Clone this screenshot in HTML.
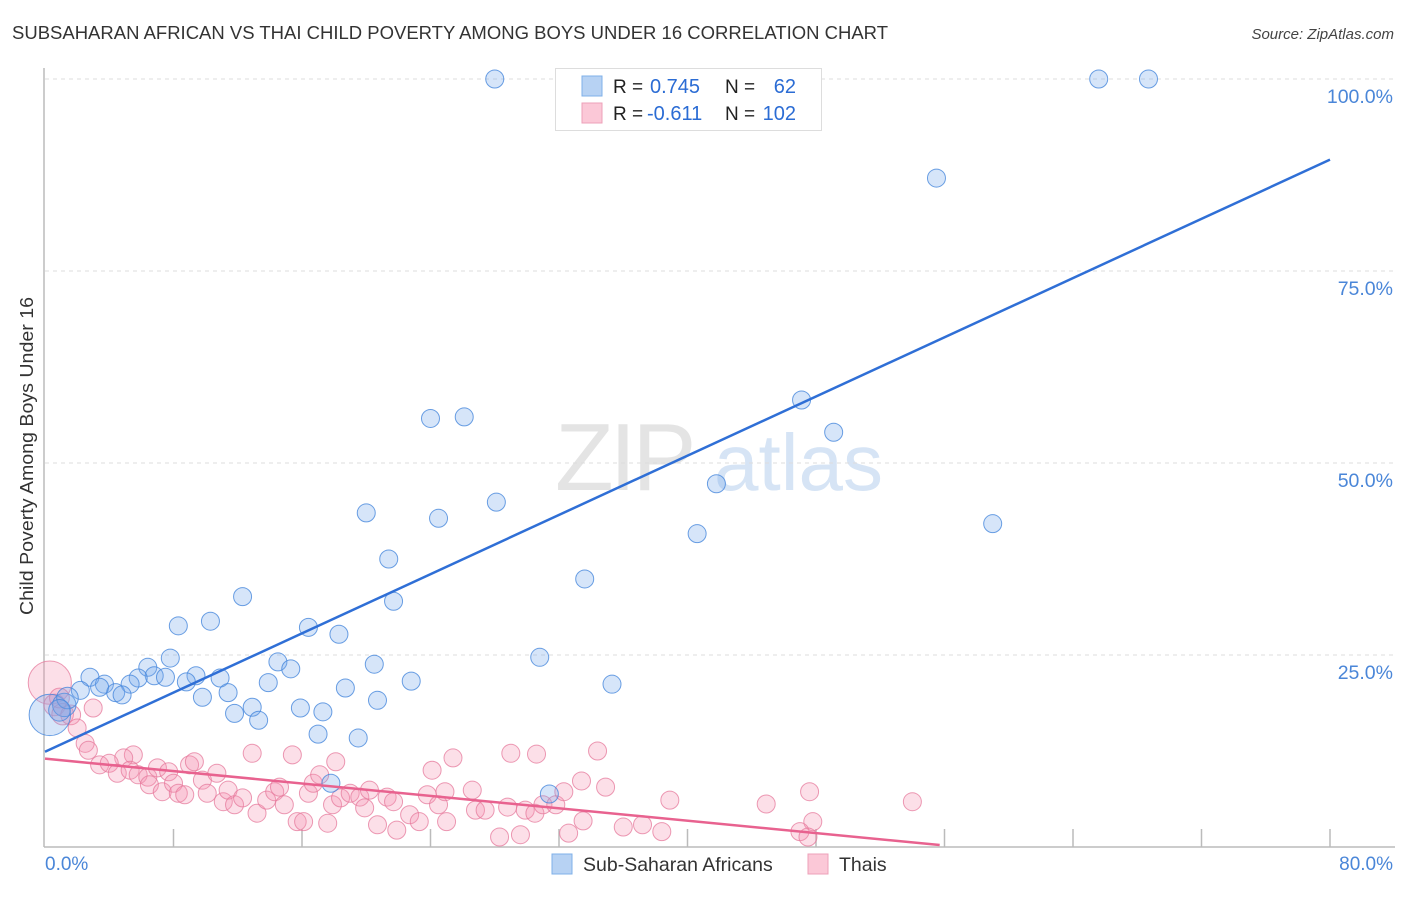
<!DOCTYPE html>
<html><head><meta charset="utf-8">
<style>
body{margin:0;background:#fff;font-family:"Liberation Sans",sans-serif;}
svg text{font-family:"Liberation Sans",sans-serif;}
</style></head>
<body>
<svg id="chart" width="1406" height="892" xmlns="http://www.w3.org/2000/svg">
<text x="12" y="39" font-size="18" fill="#333" textLength="876" lengthAdjust="spacingAndGlyphs">SUBSAHARAN AFRICAN VS THAI CHILD POVERTY AMONG BOYS UNDER 16 CORRELATION CHART</text>
<text x="1394" y="39" font-size="15" font-style="italic" fill="#444" text-anchor="end">Source: ZipAtlas.com</text>
<g>
<text x="555" y="490" font-size="96" font-family="Liberation Serif" fill="#e4e4e4" letter-spacing="-4">ZIP</text>
<text x="714" y="490" font-size="80" fill="#d6e4f5">atlas</text>
</g>
<text transform="translate(33,456) rotate(-90)" font-size="18" fill="#333" text-anchor="middle" textLength="318" lengthAdjust="spacingAndGlyphs">Child Poverty Among Boys Under 16</text>
<g id="grid"></g>
<g id="axes"></g>
<g id="marks"></g>
<g id="lines"></g>
<g>
<rect x="555.5" y="68.5" width="266" height="62" fill="#fff" stroke="#ddd"/>
<rect x="582" y="76" width="20" height="20" fill="#b7d2f3" stroke="#7fb0e8"/>
<rect x="582" y="103" width="20" height="20" fill="#fbc8d7" stroke="#eea0b8"/>
<text x="613" y="93" font-size="19" fill="#222">R = </text>
<text x="650" y="93" font-size="20" fill="#2b6cd4">0.745</text>
<text x="725" y="93" font-size="19" fill="#222">N = </text>
<text x="796" y="93" font-size="20" fill="#2b6cd4" text-anchor="end">62</text>
<text x="613" y="120" font-size="19" fill="#222">R = </text>
<text x="647" y="120" font-size="20" fill="#2b6cd4">-0.611</text>
<text x="725" y="120" font-size="19" fill="#222">N = </text>
<text x="796" y="120" font-size="20" fill="#2b6cd4" text-anchor="end">102</text>
</g>
<g>
<rect x="552" y="854" width="20" height="20" fill="#b7d2f3" stroke="#7fb0e8"/>
<text x="583" y="871" font-size="19.5" fill="#333">Sub-Saharan Africans</text>
<rect x="808" y="854" width="20" height="20" fill="#fbc8d7" stroke="#eea0b8"/>
<text x="839" y="871" font-size="19.5" fill="#333">Thais</text>
</g>
</svg>
<script>
const yTicks=[25,50,75,100];
const yTickLabels=["25.0%","50.0%","75.0%","100.0%"];
const xTicks=[8,16,24,32,40,48,56,64,72,80];
const xEndLabels=["0.0%","80.0%"];
const blueX=[28.0,65.6,68.7,55.5,47.1,49.1,24.0,26.1,28.1,41.8,20.0,24.5,40.6,59.0,21.4,33.6,12.3,21.7,8.3,10.3,16.4,18.3,30.8,7.8,14.5,15.3,20.5,6.4,2.8,9.4,10.9,6.8,7.5,5.8,3.7,5.3,8.8,13.9,22.8,35.3,2.2,3.4,4.4,4.8,18.7,9.8,11.4,20.7,11.8,12.9,13.3,15.9,17.3,17.0,19.5,17.8,31.4,0.3,1.2,1.4,0.9];
const blueY=[100,100,100,87.1,58.2,54.0,55.8,56.0,44.9,47.3,43.5,42.8,40.8,42.1,37.5,34.9,32.6,32.0,28.8,29.4,28.6,27.7,24.7,24.6,24.1,23.2,23.8,23.4,22.1,22.3,22.0,22.3,22.1,22.0,21.2,21.2,21.5,21.4,21.6,21.2,20.4,20.8,20.1,19.8,20.7,19.5,20.1,19.1,17.4,18.2,16.5,18.1,17.6,14.7,14.2,8.3,6.9,17.2,18.5,19.4,17.8];
const blueSize=[1,1,1,1,1,1,1,1,1,1,1,1,1,1,1,1,1,1,1,1,1,1,1,1,1,1,1,1,1,1,1,1,1,1,1,1,1,1,1,1,1,1,1,1,1,1,1,1,1,1,1,1,1,1,1,1,1,2.3,1.3,1.2,1.2];
const pinkX=[0.3,0.6,1.1,0.9,1.6,3.0,2.0,2.5,2.7,5.5,4.9,3.4,4.0,4.5,5.3,5.8,6.4,6.5,7.0,7.3,7.7,8.0,8.3,8.7,9.0,9.3,9.8,10.1,10.7,11.1,11.4,11.8,12.3,12.9,13.2,13.8,14.3,14.6,14.9,15.4,15.7,16.1,16.4,16.7,17.1,17.6,17.9,18.1,18.4,19.0,19.6,19.9,20.2,20.7,21.3,21.7,21.9,22.7,23.3,23.8,24.1,24.5,25.0,25.4,24.9,26.6,26.8,27.4,29.0,30.6,28.8,28.3,29.6,29.9,30.5,31.0,31.8,32.3,33.4,34.4,34.9,33.5,32.6,36.0,37.2,38.4,38.9,44.9,47.6,47.8,47.0,47.5,54.0];
const pinkY=[21.4,18.5,17.3,19.4,17.2,18.1,15.5,13.5,12.6,12.0,11.6,10.7,10.9,9.6,10.0,9.4,9.1,8.1,10.3,7.2,9.8,8.3,7.0,6.8,10.7,11.1,8.7,7.0,9.6,5.9,7.4,5.5,6.4,12.2,4.4,6.1,7.2,7.8,5.5,12.0,3.3,3.3,7.0,8.3,9.4,3.1,5.5,11.1,6.4,7.0,6.5,5.1,7.4,2.9,6.5,5.9,2.2,4.2,3.3,6.8,10.0,5.5,3.3,11.6,7.2,7.4,4.8,4.8,12.2,12.1,5.2,1.3,1.6,4.8,4.4,5.5,5.5,7.2,8.6,12.5,7.8,3.4,1.8,2.6,2.9,2.0,6.1,5.6,7.2,3.3,2.0,1.3,5.9];
const pinkSize=[2.4,1.2,1.2,1.1,1.1,1,1,1,1,1,1,1,1,1,1,1,1,1,1,1,1,1,1,1,1,1,1,1,1,1,1,1,1,1,1,1,1,1,1,1,1,1,1,1,1,1,1,1,1,1,1,1,1,1,1,1,1,1,1,1,1,1,1,1,1,1,1,1,1,1,1,1,1,1,1,1,1,1,1,1,1,1,1,1,1,1,1,1,1,1,1,1,1];
const blueTrend=[12.4,89.5];
const pinkTrend=[11.5,0.26,55.7];

const NS="http://www.w3.org/2000/svg";
const X0=45,X1=1330,Y0=847,Y100=79;
const sx=v=>X0+(X1-X0)*v/80;
const sy=v=>Y0-(Y0-Y100)*v/100;
function mk(tag,attrs,parent){const e=document.createElementNS(NS,tag);for(const k in attrs)e.setAttribute(k,attrs[k]);parent.appendChild(e);return e;}
const grid=document.getElementById('grid'),axes=document.getElementById('axes'),marks=document.getElementById('marks'),lines=document.getElementById('lines');
yTicks.forEach((t,i)=>{
  const g=mk('line',{x1:45,x2:1395,y1:sy(t),y2:sy(t),stroke:'#ddd','stroke-dasharray':'4,4'},grid);
  
  
  const l=mk('text',{x:1393,y:sy(t)+24,'font-size':19.5,fill:'#4a86d8','text-anchor':'end'},axes);
  l.textContent=yTickLabels[i];
  
  
});
const ya=mk('line',{x1:44,x2:44,y1:68,y2:Y0,stroke:'#bbb','stroke-width':1.5},axes);


const xa=mk('line',{x1:44,x2:1395,y1:Y0,y2:Y0,stroke:'#bbb','stroke-width':1.5},axes);


xTicks.forEach(t=>{
  const tk=mk('line',{x1:sx(t),x2:sx(t),y1:Y0,y2:Y0-18,stroke:'#bbb','stroke-width':1.5},axes);
  
  
});
const xl0=mk('text',{x:45,y:870,'font-size':19,fill:'#4a86d8'},axes);xl0.textContent=xEndLabels[0];


const xl1=mk('text',{x:1393,y:870,'font-size':19,fill:'#4a86d8','text-anchor':'end'},axes);xl1.textContent=xEndLabels[1];


pinkX.forEach((x,i)=>{
  const c=mk('circle',{cx:sx(x),cy:sy(pinkY[i]),r:9*pinkSize[i],fill:'rgba(244,150,180,0.3)',stroke:'rgba(230,120,155,0.75)','stroke-width':1},marks);
  
  
});
blueX.forEach((x,i)=>{
  const c=mk('circle',{cx:sx(x),cy:sy(blueY[i]),r:9*blueSize[i],fill:'rgba(120,170,235,0.3)',stroke:'rgba(70,135,220,0.8)','stroke-width':1},marks);
  
  
});
const bl=mk('line',{x1:sx(0),y1:sy(blueTrend[0]),x2:sx(80),y2:sy(blueTrend[1]),stroke:'#2f6fd6','stroke-width':2.5},lines);


const pl=mk('line',{x1:sx(0),y1:sy(pinkTrend[0]),x2:sx(pinkTrend[2]),y2:sy(pinkTrend[1]),stroke:'#e8628f','stroke-width':2.5},lines);


</script>
</body></html>
